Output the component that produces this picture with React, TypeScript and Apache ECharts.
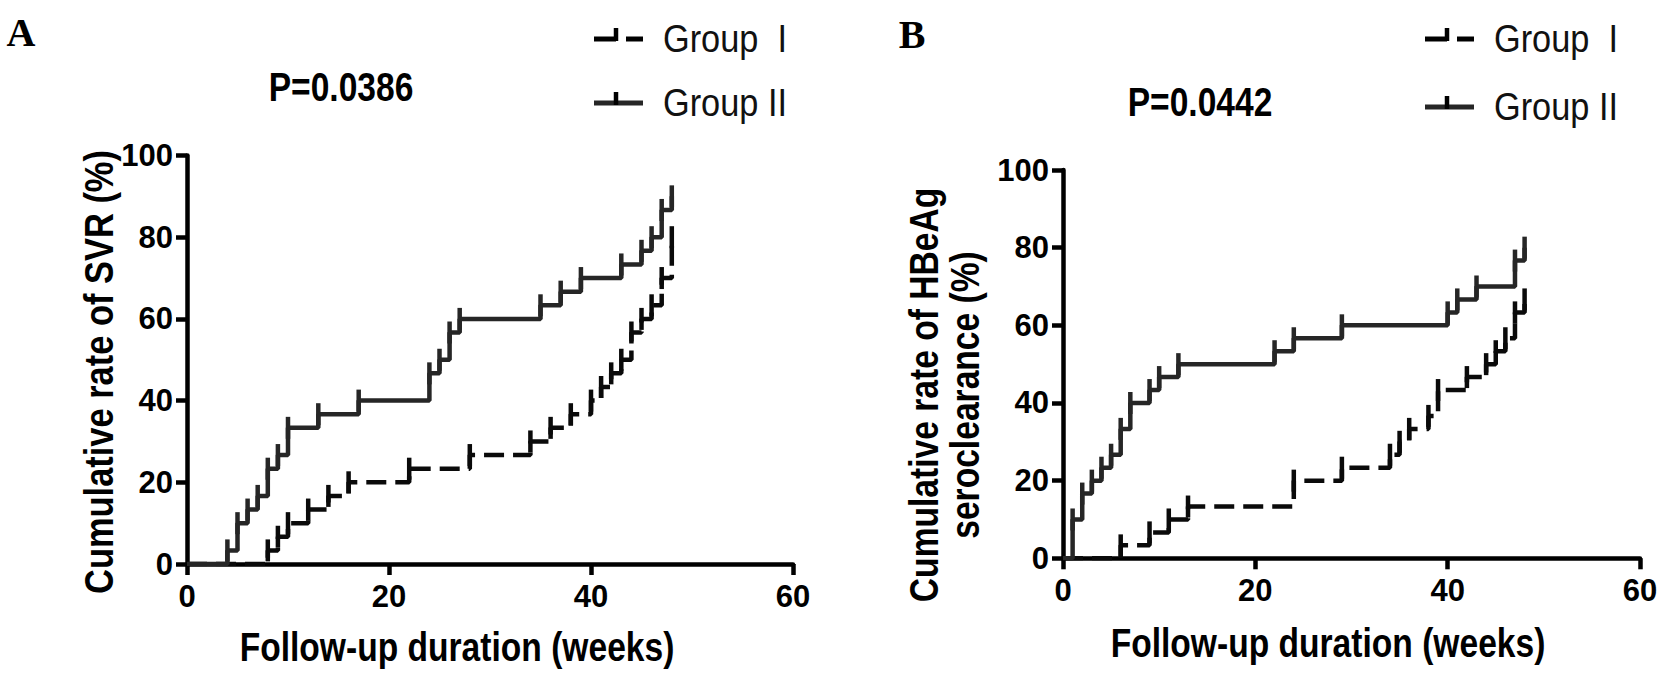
import { useEffect, useRef } from "react";
import * as echarts from "echarts";

// Panel A: cumulative rate of SVR (%), steps at these weeks
const svrWeeksI = [0, 8, 9, 10, 12, 14, 16, 22, 28, 34, 36, 38, 40, 41, 42, 43, 44, 45, 46, 47, 48];
const svrRateI = [0, 3.33, 6.67, 10, 13.33, 16.67, 20, 23.33, 26.67, 30, 33.33, 36.67, 40, 43.33, 46.67, 50, 56.67, 60, 63.33, 70, 80];
const svrWeeksII = [0, 4, 5, 6, 7, 8, 9, 10, 13, 17, 24, 25, 26, 27, 35, 37, 39, 43, 45, 46, 47, 48];
const svrRateII = [0, 3.33, 10, 13.33, 16.67, 23.33, 26.67, 33.33, 36.67, 40, 46.67, 50, 56.67, 60, 63.33, 66.67, 70, 73.33, 76.67, 80, 86.67, 90];

// Panel B: cumulative rate of HBeAg seroclearance (%)
const hbeWeeksI = [0, 6, 9, 11, 13, 24, 29, 34, 35, 36, 38, 39, 42, 44, 45, 46, 47, 48];
const hbeRateI = [0, 3.33, 6.67, 10, 13.33, 20, 23.33, 26.67, 30, 33.33, 36.67, 43.33, 46.67, 50, 53.33, 56.67, 63.33, 66.67];
const hbeWeeksII = [0, 1, 2, 3, 4, 5, 6, 7, 9, 10, 12, 22, 24, 29, 40, 41, 43, 47, 48];
const hbeRateII = [0, 10, 16.67, 20, 23.33, 26.67, 33.33, 40, 43.33, 46.67, 50, 53.33, 56.67, 60, 63.33, 66.67, 70, 76.67, 80];

const groupNames = ["Group  I", "Group II"];
const pValues = ["P=0.0386", "P=0.0442"];
const xTitle = "Follow-up duration (weeks)";

const SANS = "'Liberation Sans', Arial, sans-serif";
const NARROW = "'Liberation Sans Narrow', 'Liberation Sans', Arial, sans-serif";
const DASH = [20, 9];

function stepData(weeks: number[], rates: number[]) {
  return weeks.map((w, i) => (i === 0 ? { value: [w, rates[i]], symbol: "none" } : { value: [w, rates[i]] }));
}

function stepSeries(weeks: number[], rates: number[], idx: number, dashed: boolean) {
  const color = dashed ? "#0a0a0a" : "#262626";
  return {
    type: "line",
    xAxisIndex: idx,
    yAxisIndex: idx,
    step: "end",
    data: stepData(weeks, rates),
    symbol: "rect",
    symbolSize: [4.5, 22],
    showAllSymbol: true,
    itemStyle: { color },
    lineStyle: { color, width: 4.5, type: dashed ? DASH : "solid", cap: "butt" },
    z: 3,
  };
}

function axisCommon() {
  return {
    axisLine: { onZero: false, lineStyle: { color: "#000", width: 4.5 } },
    axisTick: { length: 11, lineStyle: { color: "#000", width: 4.5 } },
    splitLine: { show: false },
  };
}

function legendGraphic(x: number, y: number, dashed: boolean, label: string) {
  const lineEls = dashed
    ? [
        { type: "line", shape: { x1: x, y1: y, x2: x + 22, y2: y }, style: { stroke: "#000", lineWidth: 5 } },
        { type: "line", shape: { x1: x + 32, y1: y, x2: x + 49, y2: y }, style: { stroke: "#000", lineWidth: 5 } },
      ]
    : [{ type: "line", shape: { x1: x, y1: y, x2: x + 49, y2: y }, style: { stroke: "#262626", lineWidth: 5 } }];
  return [
    ...lineEls,
    { type: "line", shape: { x1: x + 22, y1: y - 11, x2: x + 22, y2: y + 2 }, style: { stroke: "#000", lineWidth: 4.5 } },
    {
      type: "text",
      x: x + 69,
      y,
      scaleX: 0.88,
      style: { text: label, fontSize: 39, fontFamily: SANS, fill: "#111", align: "left", verticalAlign: "middle" },
    },
  ];
}

// tall, condensed bold text like the original figure (scaleX works along the reading direction)
function boldText(text: string, x: number, y: number, size: number, rotation = 0, lineHeight?: number) {
  return {
    type: "text",
    x,
    y,
    rotation,
    scaleX: 0.84,
    style: {
      text,
      fontSize: size,
      fontWeight: "bold",
      fontFamily: SANS,
      fill: "#000",
      align: "center",
      verticalAlign: "middle",
      lineHeight,
    },
  };
}

export default function App() {
  const ref = useRef<HTMLDivElement>(null);
  useEffect(() => {
    if (!ref.current) return;
    const chart = echarts.init(ref.current, undefined, { renderer: "svg" });
    const xAxis = (gridIndex: number) => ({
      type: "value",
      gridIndex,
      min: 0,
      max: 60,
      interval: 20,
      ...axisCommon(),
      axisLabel: { color: "#000", fontSize: 31, fontWeight: "bold", fontFamily: NARROW, margin: 17 },
    });
    const yAxis = (gridIndex: number) => ({
      type: "value",
      gridIndex,
      min: 0,
      max: 100,
      interval: 20,
      ...axisCommon(),
      axisLabel: { color: "#000", fontSize: 31, fontWeight: "bold", fontFamily: NARROW, margin: 14 },
    });
    chart.setOption({
      animation: false,
      backgroundColor: "#fff",
      grid: [
        { left: 187, top: 155.5, width: 606, height: 408.5 },
        { left: 1063, top: 170, width: 577, height: 388.3 },
      ],
      xAxis: [xAxis(0), xAxis(1)],
      yAxis: [yAxis(0), yAxis(1)],
      series: [
        stepSeries(svrWeeksI, svrRateI, 0, true),
        stepSeries(svrWeeksII, svrRateII, 0, false),
        stepSeries(hbeWeeksI, hbeRateI, 1, true),
        stepSeries(hbeWeeksII, hbeRateII, 1, false),
      ],
      graphic: [
        {
          type: "text",
          x: 21,
          y: 32,
          style: { text: "A", fontSize: 40, fontWeight: "bold", fontFamily: "'Liberation Serif', serif", fill: "#000", align: "center", verticalAlign: "middle" },
        },
        {
          type: "text",
          x: 912,
          y: 34,
          style: { text: "B", fontSize: 40, fontWeight: "bold", fontFamily: "'Liberation Serif', serif", fill: "#000", align: "center", verticalAlign: "middle" },
        },
        boldText(pValues[0], 341, 87, 40),
        boldText(pValues[1], 1200, 102, 40),
        boldText(xTitle, 457, 647, 40),
        boldText(xTitle, 1328, 643, 40),
        boldText("Cumulative rate of SVR (%)", 99, 372, 41, Math.PI / 2),
        boldText("Cumulative rate of HBeAg\nseroclearance (%)", 945, 395, 40, Math.PI / 2, 41),
        ...legendGraphic(594, 39, true, groupNames[0]),
        ...legendGraphic(594, 103, false, groupNames[1]),
        ...legendGraphic(1425, 39, true, groupNames[0]),
        ...legendGraphic(1425, 107, false, groupNames[1]),
      ],
    });
    return () => chart.dispose();
  }, []);
  return <div ref={ref} style={{ position: "absolute", left: 0, top: 0, width: 1677, height: 686 }} />;
}
